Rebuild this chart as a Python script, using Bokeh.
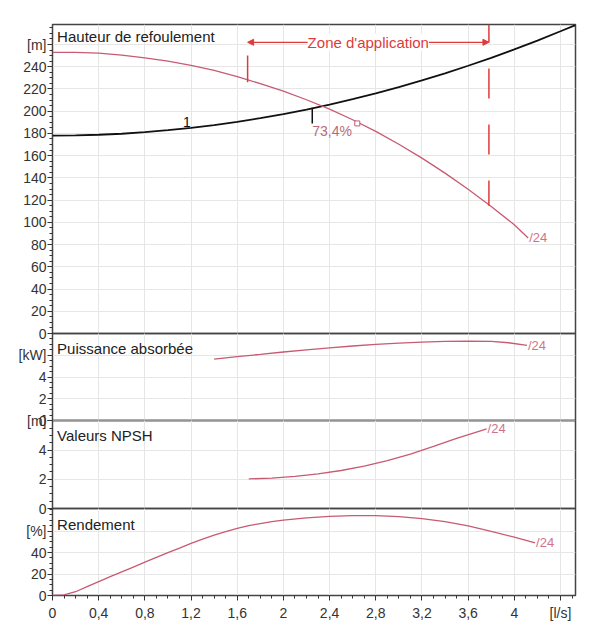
from bokeh.plotting import figure
from bokeh.layouts import column
from bokeh.models import FixedTicker, Range1d, Label, Arrow, NormalHead
from bokeh.embed import file_html
from bokeh.resources import INLINE

# ---------------- data ----------------
q_pump = [0.0, 0.2, 0.4, 0.6, 0.8, 1.0, 1.2, 1.4, 1.6, 1.8, 2.0, 2.2, 2.4, 2.6, 2.8,
          3.0, 3.2, 3.4, 3.6, 3.8, 4.0, 4.12]
h_pump = [253, 253, 252.2, 250.5, 248, 245, 241.3, 236.7, 231, 224.8, 218, 210.3, 201.8,
          192.3, 181.8, 170.3, 157.8, 144.3, 129.8, 114.3, 97.8, 86]

q_system = [0.0, 0.2, 0.4, 0.6, 0.8, 1.0, 1.2, 1.4, 1.6, 1.8, 2.0, 2.2, 2.4, 2.6, 2.8,
            3.0, 3.2, 3.4, 3.6, 3.8, 4.0, 4.2, 4.4, 4.53]
h_system = [178, 178.2, 178.8, 179.7, 181.1, 182.9, 185, 187.5, 190.4, 193.7, 197.4, 201.5,
            206, 210.8, 216, 221.7, 227.7, 234, 240.9, 248, 255.6, 263.5, 271.9, 277.5]

q_power = [1.4, 1.6, 1.8, 2.0, 2.2, 2.4, 2.6, 2.8, 3.0, 3.2, 3.4, 3.6, 3.8, 3.95, 4.11]
p_power = [5.65, 5.87, 6.08, 6.3, 6.5, 6.68, 6.85, 7.0, 7.12, 7.21, 7.27, 7.3, 7.27, 7.15, 6.9]

q_npsh = [1.7, 1.9, 2.1, 2.3, 2.5, 2.7, 2.9, 3.1, 3.3, 3.5, 3.7, 3.76]
v_npsh = [2.02, 2.08, 2.2, 2.37, 2.6, 2.9, 3.27, 3.72, 4.25, 4.8, 5.3, 5.45]

q_eff = [0.0, 0.1, 0.2, 0.3, 0.4, 0.5, 0.6, 0.7, 0.8, 0.9, 1.0, 1.1, 1.2, 1.3, 1.4, 1.5,
         1.6, 1.7, 1.8, 1.9, 2.0, 2.2, 2.4, 2.6, 2.8, 3.0, 3.2, 3.4, 3.6, 3.8, 4.0, 4.18]
v_eff = [0.0, 0.6, 3.5, 8.3, 13, 17.5, 22, 26.5, 31, 35.5, 40, 44.2, 48.5, 52.5, 56.2, 59.5,
         62.5, 65, 67, 68.8, 70.2, 72.3, 73.6, 74.3, 74.3, 73.4, 71.6, 68.8, 64.8, 59.8, 54.3, 49]

x_tick_values = [0, 0.4, 0.8, 1.2, 1.6, 2.0, 2.4, 2.8, 3.2, 3.6, 4.0, 4.4]
x_tick_labels = ["0", "0,4", "0,8", "1,2", "1,6", "2", "2,4", "2,8", "3,2", "3,6", "4", "[l/s]"]

head_ticks = [0, 20, 40, 60, 80, 100, 120, 140, 160, 180, 200, 220, 240, 260]
head_labels = ["0", "20", "40", "60", "80", "100", "120", "140", "160", "180", "200", "220", "240", "[m]"]
power_ticks = [0, 2, 4, 6]
power_labels = ["0", "2", "4", "[kW]"]
npsh_ticks = [0, 2, 4, 6]
npsh_labels = ["0", "2", "4", "[m]"]
eff_ticks = [0, 20, 40, 60]
eff_labels = ["0", "20", "40", "[%]"]

panel_titles = ["Hauteur de refoulement", "Puissance absorbée", "Valeurs NPSH", "Rendement"]
curve_tag = "/24"
system_tag = "1"
zone_text = "Zone d'application"
zone_q = [1.69, 3.78]
zone_left_h = [250, 226]
zone_right_h = [278, 115]
zone_arrow_h = 262
bep_text = "73,4%"
bep_q = [2.64]
bep_h = [189]
op_q = [2.25, 2.25]
op_h = [203, 189]

# ---------------- styling ----------------
FONT = "Liberation Sans"
PINK = "#c85a72"
PINK_TXT = "#cf7488"
RED = "#dd3b3b"
GRID = "#e6e6e6"
FRAME = "#444444"
X_END = 4.53
FRAME_W = 523
LEFT = 52
RIGHT = 20


def make_panel(y_end, ticks, labels, minor, frame_h, top, bottom, xaxis=False, overlap=True):
    p = figure(width=LEFT + FRAME_W + RIGHT, height=top + frame_h + bottom,
               x_range=Range1d(0, X_END), y_range=Range1d(0, y_end),
               output_backend="svg", toolbar_location=None,
               x_axis_location="below" if xaxis else None,
               min_border_left=LEFT, min_border_right=RIGHT,
               min_border_top=top, min_border_bottom=bottom,
               margin=(-16, 0, 0, 0) if overlap else (0, 0, 0, 0))
    p.background_fill_alpha = 0
    p.border_fill_alpha = 0
    p.outline_line_color = FRAME
    p.outline_line_width = 1.5
    p.yaxis.ticker = FixedTicker(ticks=ticks, minor_ticks=minor)
    p.yaxis.major_label_overrides = dict(zip(ticks, labels))
    p.yaxis.axis_line_color = None
    p.yaxis.major_tick_out = 5
    p.yaxis.major_tick_in = 0
    p.yaxis.minor_tick_out = 3
    p.yaxis.minor_tick_in = 0
    p.yaxis.major_tick_line_color = "#333333"
    p.yaxis.minor_tick_line_color = "#333333"
    p.yaxis.major_label_standoff = 1
    p.yaxis.major_label_text_font = FONT
    p.yaxis.major_label_text_font_size = "14px"
    p.yaxis.major_label_text_color = "#333333"
    p.ygrid.ticker = FixedTicker(ticks=ticks)
    p.ygrid.grid_line_color = GRID
    p.xgrid.ticker = FixedTicker(ticks=x_tick_values)
    p.xgrid.grid_line_color = GRID
    if xaxis:
        p.xaxis.ticker = FixedTicker(ticks=x_tick_values, minor_ticks=[i / 10 for i in range(46)])
        p.xaxis.major_label_overrides = dict(zip(x_tick_values, x_tick_labels))
        p.xaxis.axis_line_color = None
        p.xaxis.major_tick_out = 5
        p.xaxis.major_tick_in = 0
        p.xaxis.minor_tick_out = 3
        p.xaxis.minor_tick_in = 0
        p.xaxis.major_tick_line_color = "#333333"
        p.xaxis.minor_tick_line_color = "#333333"
        p.xaxis.major_label_standoff = 4
        p.xaxis.major_label_text_font = FONT
        p.xaxis.major_label_text_font_size = "14px"
        p.xaxis.major_label_text_color = "#333333"
    return p


def title(p, text, y):
    p.add_layout(Label(x=0.04, y=y, text=text, text_baseline="top", text_font=FONT,
                       text_font_size="15px", text_color="#222222"))


def tag(p, q, v):
    p.add_layout(Label(x=q[-1], y=v[-1], text=curve_tag, text_baseline="middle",
                       text_align="left", text_font=FONT, text_font_size="13px",
                       text_color=PINK_TXT, x_offset=1))


# Panel 1: head
p1 = make_panel(278, head_ticks, head_labels, [i * 5 for i in range(56)], 309, 24, 8, overlap=False)
p1.line(q_system, h_system, line_color="#111111", line_width=1.8)
p1.line(q_pump, h_pump, line_color=PINK, line_width=1.3)
p1.line(op_q, op_h, line_color="#111111", line_width=1.5)
p1.scatter(bep_q, bep_h, marker="square", size=5, fill_color="white", line_color=PINK)
p1.line([zone_q[0], zone_q[0]], zone_left_h, line_color=RED, line_width=1.5)
p1.line([zone_q[1], zone_q[1]], zone_right_h, line_color=RED, line_width=1.5,
        line_dash="30 26", line_dash_offset=12)
mid = (zone_q[0] + zone_q[1]) / 2
for qe in zone_q:
    p1.add_layout(Arrow(x_start=mid, y_start=zone_arrow_h, x_end=qe, y_end=zone_arrow_h,
                        line_color=RED, line_width=1.3,
                        end=NormalHead(size=6, fill_color=RED, line_color=RED)))
p1.add_layout(Label(x=mid, y=zone_arrow_h, text=zone_text, text_align="center",
                    text_baseline="middle", text_font=FONT, text_font_size="15px",
                    text_color=RED, background_fill_color="white"))
p1.add_layout(Label(x=bep_q[0] - 0.39, y=bep_h[0] - 7, text=bep_text, text_baseline="middle",
                    text_font=FONT, text_font_size="14px", text_color="#b86a7c"))
p1.add_layout(Label(x=1.13, y=186, text=system_tag, text_baseline="bottom",
                    text_font=FONT, text_font_size="14px", text_color="#111111"))
tag(p1, q_pump, h_pump)
title(p1, panel_titles[0], 275)

# Panel 2: power
p2 = make_panel(8, power_ticks, power_labels, [i * 0.5 for i in range(17)], 87, 8, 8)
p2.line(q_power, p_power, line_color=PINK, line_width=1.3)
tag(p2, q_power, p_power)
title(p2, panel_titles[1], 7.4)

# Panel 3: NPSH
p3 = make_panel(6.02, npsh_ticks, npsh_labels, [i * 0.5 for i in range(13)], 88, 8, 8)
p3.line(q_npsh, v_npsh, line_color=PINK, line_width=1.3)
tag(p3, q_npsh, v_npsh)
title(p3, panel_titles[2], 5.6)

# Panel 4: efficiency
p4 = make_panel(81, eff_ticks, eff_labels, [i * 5 for i in range(17)], 87, 8, 28, xaxis=True)
p4.line(q_eff, v_eff, line_color=PINK, line_width=1.3)
tag(p4, q_eff, v_eff)
title(p4, panel_titles[3], 74)

layout = column(p1, p2, p3, p4, spacing=0)
open("out.html", "w").write(file_html(layout, INLINE))
